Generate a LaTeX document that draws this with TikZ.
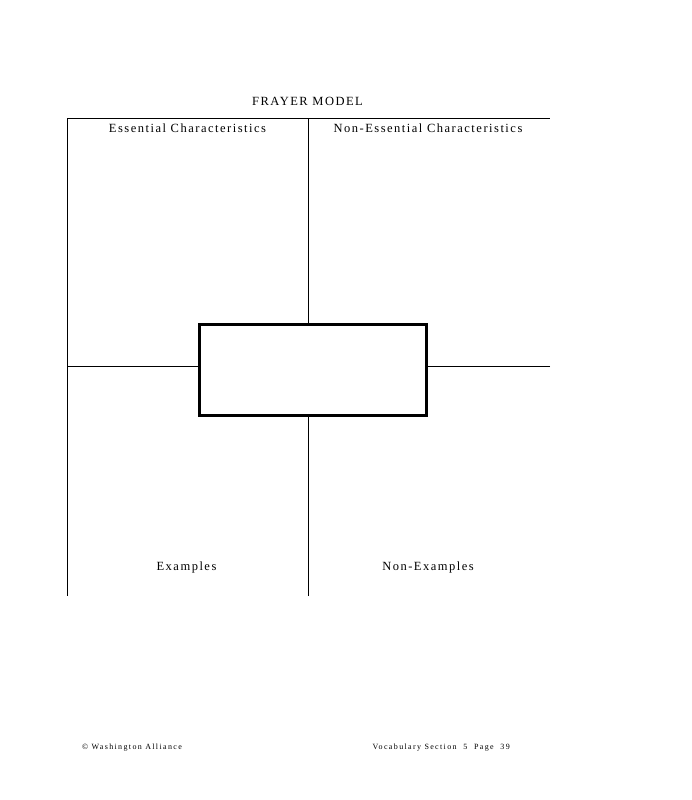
\documentclass[tikz,border=0pt]{standalone}
\usepackage{fontspec}
\setmainfont{Liberation Serif}
\begin{document}
\begin{tikzpicture}[x=1pt,y=-1pt,
  thin line/.style={line width=1pt,black},
  lbl/.style={inner sep=0pt,font=\fontsize{12.5}{14}\selectfont\addfontfeatures{LetterSpace=12}},
  foot/.style={inner sep=0pt,font=\fontsize{8}{9}\selectfont\addfontfeatures{LetterSpace=17}}]
\useasboundingbox[fill=white] (0,0) rectangle (691,800);
\coordinate (tl) at (67,118);
\coordinate (tm) at (308,118);
\coordinate (tr) at (550,118);
\coordinate (bl) at (67,596);
\coordinate (bm) at (308,596);
\coordinate (ml) at (67,366);
\coordinate (mr) at (550,366);
\node[draw,line width=3pt,minimum width=227pt,minimum height=91pt,inner sep=0pt] (box) at (313,369.5) {};
\draw[thin line] (tl) -- (tr);
\draw[thin line] (tl) -- (bl);
\draw[thin line] (tm) -- (tm |- box.north);
\draw[thin line] (bm) -- (bm |- box.south);
\draw[thin line] (ml) -- (ml -| box.west);
\draw[thin line] (mr) -- (mr -| box.east);
\node[lbl] (title) at (307.5,101) {FRAYER MODEL};
\node[lbl] (ess) at (187.5,128) {Essential Characteristics};
\node[lbl] (ness) at (428,128) {Non-Essential Characteristics};
\node[lbl] (ex) at (186.5,567) {Examples};
\node[lbl] (nex) at (428,567) {Non-Examples};
\node[foot,anchor=west] (copy) at (82,748) {© Washington Alliance};
\node[foot,anchor=east] (page) at (510,748) {Vocabulary Section\ \ 5\ \ Page\ \ 39};
\end{tikzpicture}
\end{document}
